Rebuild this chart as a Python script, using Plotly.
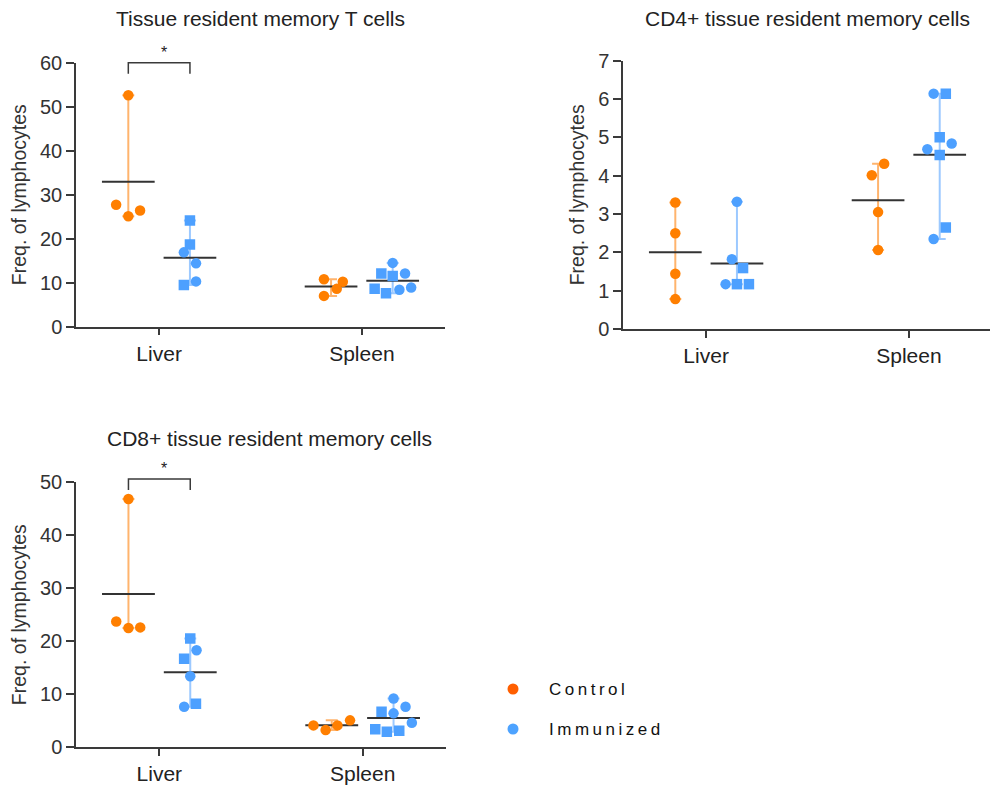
import numpy as np
import plotly.graph_objects as go

# ---------------- data ----------------
categories = ["Liver", "Spleen"]
groups = ["Control", "Immunized"]

# Panel 1: Tissue resident memory T cells
p1_ctrl_liver = [52.6, 27.7, 25.1, 26.4]
p1_ctrl_liver_sym = ["circle", "circle", "circle", "circle"]
p1_ctrl_liver_jit = [0.0, -0.06, 0.0, 0.058]
p1_imm_liver = [24.15, 18.7, 16.9, 14.4, 10.3, 9.5]
p1_imm_liver_sym = ["square", "square", "circle", "circle", "circle", "square"]
p1_imm_liver_jit = [0.0, 0.0, -0.03, 0.03, 0.03, -0.03]
p1_ctrl_spleen = [10.8, 10.2, 8.6, 7.0]
p1_ctrl_spleen_sym = ["circle", "circle", "circle", "circle"]
p1_ctrl_spleen_jit = [-0.035, 0.058, 0.028, -0.035]
p1_imm_spleen = [14.5, 12.1, 11.5, 12.1, 8.6, 7.6, 8.4, 8.9]
p1_imm_spleen_sym = ["circle", "square", "square", "circle", "square", "square", "circle", "circle"]
p1_imm_spleen_jit = [0.0, -0.056, 0.0, 0.061, -0.089, -0.033, 0.033, 0.091]

# Panel 2: CD4+ tissue resident memory cells
p2_ctrl_liver = [3.30, 2.50, 1.44, 0.78]
p2_ctrl_liver_sym = ["circle", "circle", "circle", "circle"]
p2_ctrl_liver_jit = [0.0, 0.0, 0.0, 0.0]
p2_imm_liver = [3.32, 1.82, 1.59, 1.17, 1.17, 1.17]
p2_imm_liver_sym = ["circle", "circle", "square", "circle", "square", "square"]
p2_imm_liver_jit = [0.0, -0.025, 0.03, -0.056, 0.0, 0.059]
p2_ctrl_spleen = [4.31, 4.01, 3.05, 2.06]
p2_ctrl_spleen_sym = ["circle", "circle", "circle", "circle"]
p2_ctrl_spleen_jit = [0.03, -0.031, 0.0, 0.0]
p2_imm_spleen = [6.14, 6.14, 5.0, 4.84, 4.69, 4.54, 2.65, 2.35]
p2_imm_spleen_sym = ["circle", "square", "square", "circle", "circle", "square", "square", "circle"]
p2_imm_spleen_jit = [-0.03, 0.03, 0.0, 0.059, -0.061, 0.0, 0.03, -0.03]

# Panel 3: CD8+ tissue resident memory cells
p3_ctrl_liver = [46.8, 23.7, 22.5, 22.6]
p3_ctrl_liver_sym = ["circle", "circle", "circle", "circle"]
p3_ctrl_liver_jit = [0.0, -0.06, 0.0, 0.058]
p3_imm_liver = [20.5, 18.3, 16.7, 13.4, 8.2, 7.65]
p3_imm_liver_sym = ["square", "circle", "square", "circle", "square", "circle"]
p3_imm_liver_jit = [0.0, 0.031, -0.03, 0.0, 0.028, -0.03]
p3_ctrl_spleen = [4.13, 3.26, 4.13, 5.08]
p3_ctrl_spleen_sym = ["circle", "circle", "circle", "circle"]
p3_ctrl_spleen_jit = [-0.09, -0.03, 0.028, 0.09]
p3_imm_spleen = [9.2, 7.65, 6.7, 6.4, 4.64, 3.38, 2.95, 3.13]
p3_imm_spleen_sym = ["circle", "circle", "square", "circle", "circle", "square", "square", "square"]
p3_imm_spleen_jit = [0.0, 0.059, -0.059, 0.0, 0.09, -0.09, -0.033, 0.028]

titles = ["Tissue resident memory T cells",
          "CD4+ tissue resident memory cells",
          "CD8+ tissue resident memory cells"]
y_title = "Freq. of lymphocytes"
y_max = [60, 7, 50]
y_dtick = [10, 1, 10]
significance = ["*", None, "*"]   # Liver Control vs Immunized

panels = [
    [(p1_ctrl_liver, p1_ctrl_liver_sym, p1_ctrl_liver_jit, p1_ctrl_spleen, p1_ctrl_spleen_sym, p1_ctrl_spleen_jit),
     (p1_imm_liver, p1_imm_liver_sym, p1_imm_liver_jit, p1_imm_spleen, p1_imm_spleen_sym, p1_imm_spleen_jit)],
    [(p2_ctrl_liver, p2_ctrl_liver_sym, p2_ctrl_liver_jit, p2_ctrl_spleen, p2_ctrl_spleen_sym, p2_ctrl_spleen_jit),
     (p2_imm_liver, p2_imm_liver_sym, p2_imm_liver_jit, p2_imm_spleen, p2_imm_spleen_sym, p2_imm_spleen_jit)],
    [(p3_ctrl_liver, p3_ctrl_liver_sym, p3_ctrl_liver_jit, p3_ctrl_spleen, p3_ctrl_spleen_sym, p3_ctrl_spleen_jit),
     (p3_imm_liver, p3_imm_liver_sym, p3_imm_liver_jit, p3_imm_spleen, p3_imm_spleen_sym, p3_imm_spleen_jit)],
]

# ---------------- style ----------------
W, H = 990, 787
FONT = "Liberation Sans, Arial, sans-serif"
point_colors = ["#FF7F00", "#4DA0FF"]
bar_colors = ["rgba(255,140,30,0.65)", "rgba(90,165,255,0.6)"]
legend_colors = ["#FF5F00", "#4DA3FF"]
axis_col = "#3a3a3a"
offset = [-0.152, 0.152]
mean_half = 0.13

# plot areas in pixels (left, right, top, bottom)
areas = [(76, 445, 62.7, 326.7), (623, 990, 60.7, 329), (76, 446, 482, 747.3)]
x_ranges = [[-0.41, 1.41], [-0.41, 1.40], [-0.41, 1.41]]
title_pos = [(260.5, 18), (807, 18), (269, 438)]

fig = go.Figure()
layout = dict(width=W, height=H, margin=dict(l=0, r=0, t=0, b=0),
              plot_bgcolor="white", paper_bgcolor="white",
              showlegend=False, font=dict(family=FONT, color="#222"))
annotations, shapes = [], []

for pi, panel in enumerate(panels):
    xa = "x" if pi == 0 else f"x{pi+1}"
    ya = "y" if pi == 0 else f"y{pi+1}"
    l, r, t, b = areas[pi]
    xr = x_ranges[pi]
    layout["xaxis" if pi == 0 else f"xaxis{pi+1}"] = dict(
        domain=[l / W, r / W], range=xr, anchor=ya,
        tickvals=[0, 1], ticktext=categories, showline=True, linecolor=axis_col,
        linewidth=1.5, ticks="outside", ticklen=7, tickwidth=1.5, tickcolor=axis_col,
        showgrid=False, zeroline=False, tickfont=dict(size=21, color="#222"),
        automargin=False, fixedrange=True)
    layout["yaxis" if pi == 0 else f"yaxis{pi+1}"] = dict(
        domain=[1 - b / H, 1 - t / H], range=[0, y_max[pi]], anchor=xa,
        dtick=y_dtick[pi], showline=True, linecolor=axis_col, linewidth=1.5,
        ticks="outside", ticklen=8, tickwidth=1.5, tickcolor=axis_col,
        showgrid=False, zeroline=False, tickfont=dict(size=20, color="#333"),
        title=dict(text=y_title, font=dict(size=19.5, color="#333"), standoff=8),
        automargin=False, fixedrange=True)

    for gi, grp in enumerate(panel):
        for ci in range(2):
            vals = np.array(grp[ci * 3])
            syms = grp[ci * 3 + 1]
            jit = np.array(grp[ci * 3 + 2])
            cx = ci + offset[gi]
            mean = float(vals.mean())
            # range bar (min..max) with caps
            fig.add_trace(go.Scatter(
                x=[cx], y=[mean], mode="markers", xaxis=xa, yaxis=ya,
                marker=dict(size=1, opacity=0), hoverinfo="skip",
                error_y=dict(type="data", symmetric=False,
                             array=[vals.max() - mean], arrayminus=[mean - vals.min()],
                             color=bar_colors[gi], thickness=2, width=6)))
            # mean line
            fig.add_trace(go.Scatter(
                x=[cx - mean_half, cx + mean_half], y=[mean, mean], mode="lines",
                xaxis=xa, yaxis=ya, line=dict(color="#333", width=2), hoverinfo="skip"))
            # points
            fig.add_trace(go.Scatter(
                x=cx + jit, y=vals, mode="markers", xaxis=xa, yaxis=ya,
                name=groups[gi],
                marker=dict(color=point_colors[gi], size=10.5, symbol=syms, line=dict(width=0))))

    # significance bracket (Liver: Control vs Immunized)
    if significance[pi]:
        span = xr[1] - xr[0]
        x0 = (offset[0] - xr[0]) / span
        x1 = (offset[1] - xr[0]) / span
        ytop = 1.0 + (0.0 if pi == 0 else 0.011)
        ybot = ytop - (11.0 / (b - t))
        shapes.append(dict(type="path", xref=f"{xa} domain", yref=f"{ya} domain",
                           path=f"M {x0},{ybot} L {x0},{ytop} L {x1},{ytop} L {x1},{ybot}",
                           line=dict(color=axis_col, width=1.5)))
        annotations.append(dict(xref=f"{xa} domain", yref=f"{ya} domain",
                                x=(x0 + x1) / 2, y=ytop, yshift=0, text=significance[pi],
                                showarrow=False, yanchor="bottom",
                                font=dict(size=16, color="#222")))

    annotations.append(dict(xref="paper", yref="paper", x=title_pos[pi][0] / W,
                            y=1 - title_pos[pi][1] / H, text=titles[pi], showarrow=False,
                            xanchor="center", yanchor="middle",
                            font=dict(size=21, color="#222")))

# legend
leg_y = [689, 729]
for gi, g in enumerate(groups):
    cy = leg_y[gi]
    shapes.append(dict(type="circle", xref="paper", yref="paper",
                       x0=(513 - 5.5) / W, x1=(513 + 5.5) / W,
                       y0=1 - (cy + 5.5) / H, y1=1 - (cy - 5.5) / H,
                       fillcolor=legend_colors[gi], line=dict(width=0)))
    annotations.append(dict(xref="paper", yref="paper", x=547 / W, y=1 - cy / H,
                            text=f"<span style='letter-spacing:3.5px'>{g}</span>",
                            showarrow=False, xanchor="left", yanchor="middle",
                            font=dict(size=17, color="#111")))

layout["annotations"] = annotations
layout["shapes"] = shapes
fig.update_layout(**layout)
fig.write_html("out.html")
